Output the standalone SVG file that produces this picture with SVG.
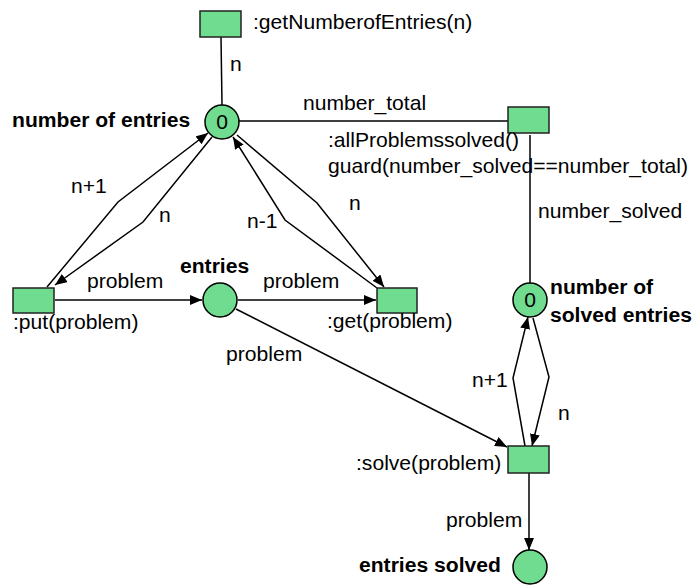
<svg xmlns="http://www.w3.org/2000/svg" width="693" height="585" viewBox="0 0 693 585">
  <defs>
    <marker id="arrow" markerUnits="userSpaceOnUse" markerWidth="12" markerHeight="10" refX="12" refY="5" orient="auto">
      <path d="M0,0 L12,5 L0,10 z" fill="#000"/>
    </marker>
    <style>
      .place { fill: #6fdc8f; stroke: #000; stroke-width: 1.5; }
      .trans { fill: #6fdc8f; stroke: #222; stroke-width: 1.5; }
      .arc { fill: none; stroke: #000; stroke-width: 1.5; }
      .arr { marker-end: url(#arrow); }
      text { font-family: "Liberation Sans", Arial, sans-serif; font-size: 21.1px; fill: #000; }
      .bold { font-weight: bold; }
      .tok { text-anchor: middle; }
    </style>
  </defs>

  <!-- connectors -->
  <g id="connectors">
    <!-- read arcs -->
    <line class="arc" x1="221" y1="37" x2="222" y2="105"/>
    <line class="arc" x1="239" y1="121" x2="508" y2="121"/>
    <line class="arc" x1="530" y1="135" x2="530" y2="283"/>
    <!-- put <-> number of entries -->
    <polyline class="arc arr" points="47,287 118,202 208,133"/>
    <polyline class="arc arr" points="212,137 143,222 55,285"/>
    <!-- get <-> number of entries -->
    <polyline class="arc arr" points="377,288 285,220 233,137"/>
    <polyline class="arc arr" points="237,135 317,203 384,287"/>
    <!-- problem flow -->
    <line class="arc arr" x1="55" y1="300" x2="202" y2="300"/>
    <line class="arc arr" x1="238" y1="300" x2="376" y2="300"/>
    <line class="arc arr" x1="236" y1="309" x2="507" y2="447"/>
    <line class="arc arr" x1="529" y1="473" x2="529" y2="550"/>
    <!-- solve <-> number of solved entries -->
    <polyline class="arc arr" points="525,446 513,378 528,317"/>
    <polyline class="arc arr" points="533,318 549,377 532,446"/>
  </g>

  <!-- arc inscriptions -->
  <g id="arc-labels">
    <text x="230" y="71">n</text>
    <text x="303" y="110">number_total</text>
    <text x="538" y="218">number_solved</text>
    <text x="71" y="193">n+1</text>
    <text x="159" y="222">n</text>
    <text x="247" y="228">n-1</text>
    <text x="349" y="210">n</text>
    <text x="87" y="288">problem</text>
    <text x="263" y="288">problem</text>
    <text x="226" y="361">problem</text>
    <text x="472" y="387">n+1</text>
    <text x="558" y="420">n</text>
    <text x="446" y="527">problem</text>
  </g>

  <!-- places -->
  <g id="place-number-of-entries">
    <circle class="place" cx="222" cy="122" r="17"/>
    <text class="tok" x="222" y="129">0</text>
    <text class="bold" x="12" y="127">number of entries</text>
  </g>
  <g id="place-entries">
    <circle class="place" cx="220" cy="300" r="17"/>
    <text class="bold" x="180" y="273">entries</text>
  </g>
  <g id="place-number-of-solved-entries">
    <circle class="place" cx="530" cy="300" r="17"/>
    <text class="tok" x="530" y="307">0</text>
    <text class="bold" x="550" y="294">number of</text>
    <text class="bold" x="550" y="322">solved entries</text>
  </g>
  <g id="place-entries-solved">
    <circle class="place" cx="530" cy="567" r="17"/>
    <text class="bold" x="359" y="572">entries solved</text>
  </g>

  <!-- transitions -->
  <g id="trans-getNumberofEntries">
    <rect class="trans" x="200" y="11" width="41" height="26"/>
    <text x="253" y="29">:getNumberofEntries(n)</text>
  </g>
  <g id="trans-allProblemssolved">
    <rect class="trans" x="508" y="107" width="41" height="26"/>
    <text x="328" y="147">:allProblemssolved()</text>
    <text x="328" y="173">guard(number_solved==number_total)</text>
  </g>
  <g id="trans-put">
    <rect class="trans" x="13" y="288" width="41" height="25"/>
    <text x="13" y="329">:put(problem)</text>
  </g>
  <g id="trans-get">
    <rect class="trans" x="377" y="288" width="40" height="25"/>
    <text x="327" y="328">:get(problem)</text>
  </g>
  <g id="trans-solve">
    <rect class="trans" x="508" y="446" width="41" height="27"/>
    <text x="356" y="470">:solve(problem)</text>
  </g>
</svg>
